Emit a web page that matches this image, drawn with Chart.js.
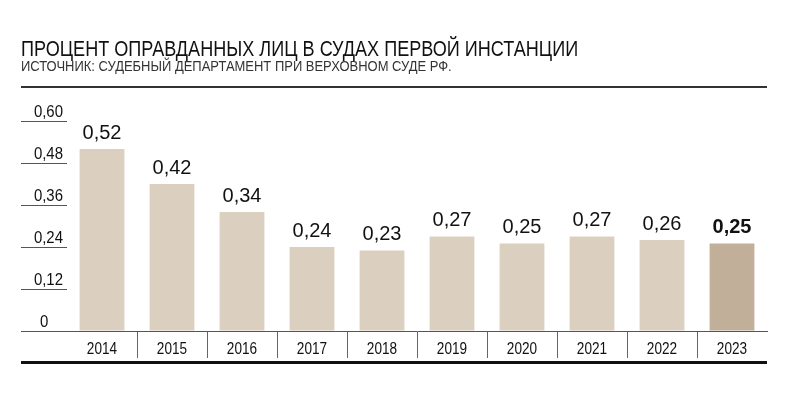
<!DOCTYPE html>
<html>
<head>
<meta charset="utf-8">
<script src="https://cdn.jsdelivr.net/npm/chart.js@4"></script>
<style>
    html, body { margin: 0; padding: 0; background: #fff; }
    #wrap { position: relative; width: 800px; height: 396px; overflow: hidden; }
    #chart { position: absolute; left: 0; top: 0; }
    .title, .source { position: absolute; left: 21px; white-space: nowrap; transform-origin: 0 0; font-family: "Liberation Sans", Arial, sans-serif; }
    .title { top: 36px; font-size: 22px; color: #111; }
    .source { top: 58px; font-size: 14px; color: #333; }
    .rule-top { position: absolute; left: 21px; top: 86px; width: 746px; height: 2px; background: #333; }
    .rule-bottom { position: absolute; left: 21px; top: 361px; width: 746px; height: 3px; background: #111; }
</style>
</head>
<body>
<div id="wrap">
    <canvas id="chart" width="800" height="396"></canvas>
    <div class="title" id="title">ПРОЦЕНТ ОПРАВДАННЫХ ЛИЦ В СУДАХ ПЕРВОЙ ИНСТАНЦИИ</div>
    <div class="source" id="source">ИСТОЧНИК: СУДЕБНЫЙ ДЕПАРТАМЕНТ ПРИ ВЕРХОВНОМ СУДЕ РФ.</div>
    <div class="rule-top"></div>
    <div class="rule-bottom"></div>
</div>
<script>
    let years = ['2014', '2015', '2016', '2017', '2018', '2019', '2020', '2021', '2022', '2023'];
    let acquitted = [0.52, 0.42, 0.34, 0.24, 0.23, 0.27, 0.25, 0.27, 0.26, 0.25];
    let yTicks = [0, 0.12, 0.24, 0.36, 0.48, 0.60];

    // узкий шрифт как в оригинале: сжимаем Liberation Sans по горизонтали
    function narrowHeader(id, width) {
        let el = document.getElementById(id);
        el.style.transform = 'scaleX(' + (width / el.offsetWidth) + ')';
    }
    narrowHeader('title', 557);
    narrowHeader('source', 431);

    function fmt(v) {
        return v === 0 ? '0' : v.toFixed(2).replace('.', ',');
    }

    function narrowText(ctx, text, x, y, align, squeeze) {
        ctx.save();
        ctx.translate(x, y);
        ctx.scale(squeeze, 1);
        ctx.textAlign = align;
        ctx.fillText(text, 0, 0);
        ctx.restore();
    }

    let barColors = acquitted.map(function (v, i) {
        return i === acquitted.length - 1 ? '#c1af99' : '#dbd0c0';
    });

    // подписи осей узким шрифтом и значения над столбцами
    let labelsPlugin = {
        id: 'labelsPlugin',
        afterDraw: function (chart) {
            let ctx = chart.ctx;
            let xs = chart.scales.x;
            let ys = chart.scales.y;
            ctx.save();
            ctx.fillStyle = '#111';
            ctx.textBaseline = 'alphabetic';

            ctx.font = '17px "Liberation Sans", Arial, sans-serif';
            years.forEach(function (y, i) {
                narrowText(ctx, y, xs.getPixelForTick(i), xs.top + 23, 'center', 0.8);
            });

            yTicks.forEach(function (v) {
                let py = ys.getPixelForValue(v) - 4;
                if (v === 0) {
                    narrowText(ctx, fmt(v), ys.left + 19, py, 'left', 0.88);
                } else {
                    narrowText(ctx, fmt(v), ys.right - 4, py, 'right', 0.88);
                }
            });

            let meta = chart.getDatasetMeta(0);
            ctx.textAlign = 'center';
            ctx.textBaseline = 'bottom';
            meta.data.forEach(function (bar, i) {
                let last = i === meta.data.length - 1;
                ctx.font = (last ? 'bold ' : '') + '20px "Liberation Sans", Arial, sans-serif';
                ctx.fillText(fmt(acquitted[i]), bar.x, bar.y - 6);
            });
            ctx.restore();
        }
    };

    new Chart(document.getElementById('chart').getContext('2d'), {
        type: 'bar',
        data: {
            labels: years,
            datasets: [{
                data: acquitted,
                backgroundColor: barColors,
                barPercentage: 0.64,
                categoryPercentage: 1
            }]
        },
        options: {
            responsive: false,
            animation: false,
            layout: {
                padding: { left: 21, right: 33, top: 121, bottom: 34 }
            },
            scales: {
                x: {
                    afterFit: function (scale) { scale.height = 31; },
                    grid: {
                        drawOnChartArea: false,
                        tickLength: 27,
                        color: function (c) {
                            return (c.type !== 'tick' || c.index === 0) ? 'rgba(0,0,0,0)' : '#666';
                        }
                    },
                    border: { display: true, color: '#555', width: 1 },
                    ticks: { display: false }
                },
                y: {
                    min: 0,
                    max: 0.6,
                    afterFit: function (scale) { scale.width = 46; },
                    afterBuildTicks: function (scale) {
                        scale.ticks = yTicks.map(function (v) { return { value: v }; });
                    },
                    grid: {
                        drawOnChartArea: false,
                        tickLength: 46,
                        color: '#555'
                    },
                    border: { display: false },
                    ticks: { display: false }
                }
            },
            plugins: {
                legend: { display: false },
                tooltip: { enabled: false }
            }
        },
        plugins: [labelsPlugin]
    });
</script>
</body>
</html>
